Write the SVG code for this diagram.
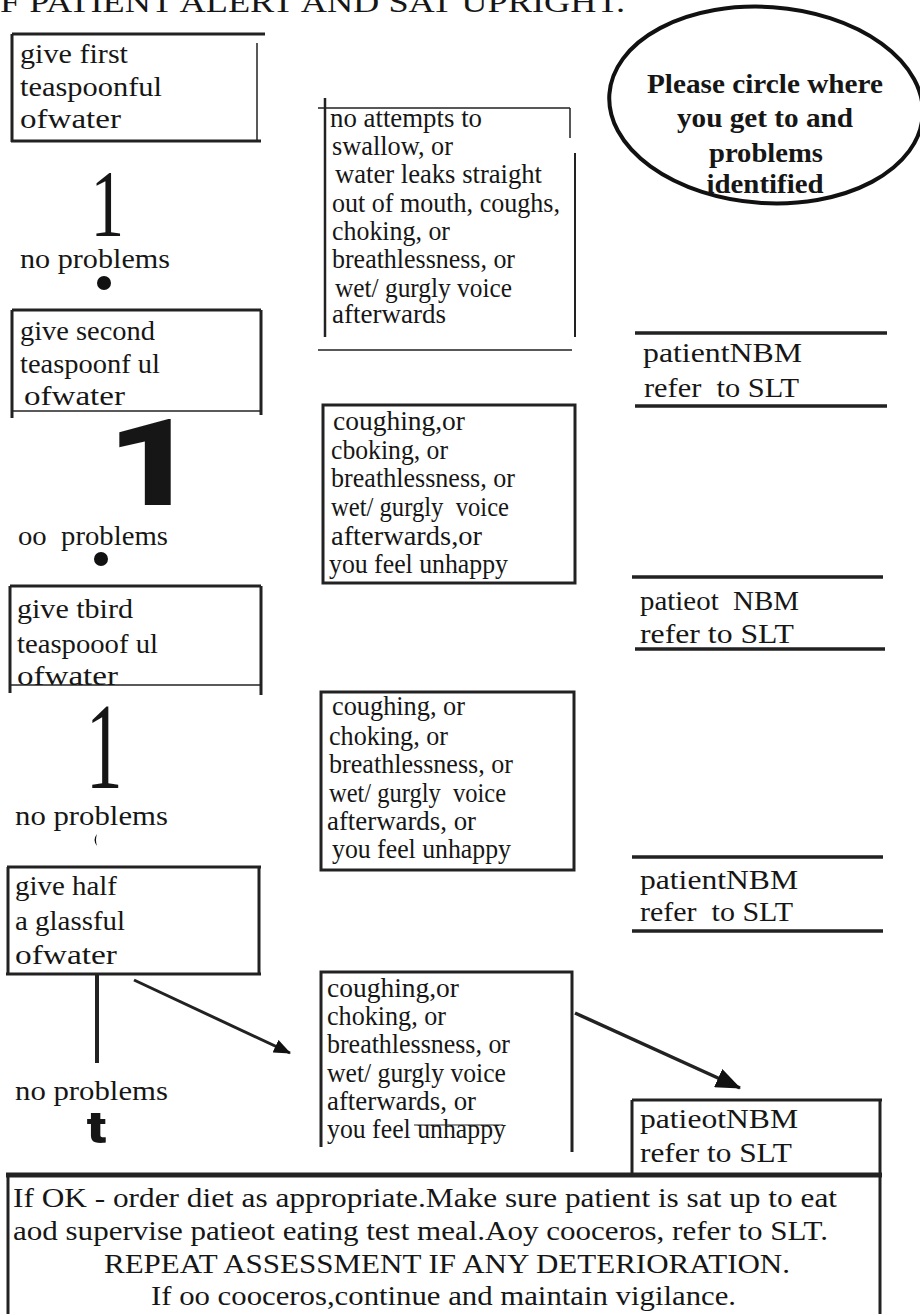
<svg xmlns="http://www.w3.org/2000/svg" width="920" height="1314" viewBox="0 0 920 1314">
<style>
text{font-family:"Liberation Serif","Times New Roman",serif;fill:#161616}
.t{font-size:27px}
.n{font-size:28px}
.b{font-size:28px}
.e{font-size:28px;font-weight:bold;text-anchor:middle}
.l{stroke:#222;fill:none}
.w1{stroke-width:1.5}
.w2{stroke-width:2.5}
.w3{stroke-width:3}
.w4{stroke-width:3.5}
.big{font-family:Roboto,"Liberation Sans",Arial,sans-serif;font-weight:900}
</style>
<defs>
<marker id="ah1" markerUnits="userSpaceOnUse" markerWidth="18" markerHeight="14" refX="16" refY="7" orient="auto"><path d="M0,0 L17,7 L0,14 z" fill="#111"/></marker>
<marker id="ah2" markerUnits="userSpaceOnUse" markerWidth="26" markerHeight="20" refX="24" refY="10" orient="auto"><path d="M0,0 L25,10 L0,20 z" fill="#111"/></marker>
</defs>
<rect width="920" height="1314" fill="#fff"/>

<g id="title">
<text x="0" y="12" style="font-size:30px" textLength="625" lengthAdjust="spacingAndGlyphs">F PATIENT  ALERT AND SAT UPRIGHT.</text>
</g>

<g id="step1">
<path class="l w3" d="M12,34 H265 M12,34 V142 M11,141 H261"/>
<path class="l w1" d="M257,43 V140"/>
<text class="t" x="20" y="63" textLength="108" lengthAdjust="spacingAndGlyphs">give first</text>
<text class="t" x="20" y="96" textLength="142" lengthAdjust="spacingAndGlyphs">teaspoonful</text>
<text class="t" x="20" y="128" textLength="101" lengthAdjust="spacingAndGlyphs">ofwater</text>
</g>

<g id="ok1">
<text transform="translate(98,236) scale(0.7,1)" x="-10.7" y="0" style="font-size:96px">1</text>
<text class="t" x="20" y="268" textLength="150" lengthAdjust="spacingAndGlyphs">no problems</text>
<circle cx="104" cy="283" r="7" fill="#111"/>
</g>

<g id="step2">
<path class="l w3" d="M12,310 H261 M12,310 V418 M261,310 V415"/>
<path class="l w1" d="M12,411 H260" stroke="#555"/>
<text class="t" x="20" y="340" textLength="135" lengthAdjust="spacingAndGlyphs">give second</text>
<text class="t" x="20" y="373" textLength="140" lengthAdjust="spacingAndGlyphs">teaspoonf ul</text>
<text class="t" x="24" y="405" textLength="101" lengthAdjust="spacingAndGlyphs">ofwater</text>
</g>

<g id="ok2">
<text class="big" transform="translate(122,505) scale(1.3,1)" x="-12" y="0" style="font-size:121px">1</text>
<text class="t" x="18" y="545" xml:space="preserve" textLength="150" lengthAdjust="spacingAndGlyphs">oo  problems</text>
<circle cx="101" cy="559" r="7" fill="#111"/>
</g>

<g id="step3">
<path class="l w3" d="M10,586 H261 M10,586 V693 M261,586 V695"/>
<path class="l w1" d="M10,685 H261"/>
<text class="t" x="17" y="618" textLength="116" lengthAdjust="spacingAndGlyphs">give tbird</text>
<text class="t" x="17" y="653" textLength="141" lengthAdjust="spacingAndGlyphs">teaspooof ul</text>
<text class="t" x="17" y="685" textLength="101" lengthAdjust="spacingAndGlyphs">ofwater</text>
</g>

<g id="ok3">
<text transform="translate(94,788) scale(0.6,1)" x="-13.7" y="0" style="font-size:123px">1</text>
<text class="t" x="15" y="825" textLength="153" lengthAdjust="spacingAndGlyphs">no problems</text>
<path d="M97,834 Q92,840 97,846 Q95,840 97,834 z" fill="#111"/>
</g>

<g id="step4">
<path class="l w3" d="M7,867 H261 M8,867 V975 M259,867 V975 M6,974 H261"/>
<text class="t" x="15" y="895" textLength="102" lengthAdjust="spacingAndGlyphs">give half</text>
<text class="t" x="15" y="930" textLength="110" lengthAdjust="spacingAndGlyphs">a glassful</text>
<text class="t" x="15" y="964" textLength="102" lengthAdjust="spacingAndGlyphs">ofwater</text>
</g>

<g id="ok4">
<text class="t" x="15" y="1100" textLength="153" lengthAdjust="spacingAndGlyphs">no problems</text>
<text class="big" transform="translate(88,1143) scale(1.3,1)" x="-1" y="0" style="font-size:44px">t</text>
</g>

<g id="circle-note">
<ellipse cx="766" cy="105" rx="157" ry="98" transform="rotate(4 766 105)" fill="none" stroke="#111" stroke-width="4"/>
<text class="e" x="765" y="93" textLength="236" lengthAdjust="spacingAndGlyphs">Please circle where</text>
<text class="e" x="765" y="127" textLength="176" lengthAdjust="spacingAndGlyphs">you get to and</text>
<text class="e" x="766" y="162" textLength="114" lengthAdjust="spacingAndGlyphs">problems</text>
<text class="e" x="765" y="193" textLength="117" lengthAdjust="spacingAndGlyphs">identified</text>
</g>

<g id="problem1">
<path class="l w1" d="M318,108 H570 M570,108 V138 M318,350 H572"/>
<path class="l w2" d="M325,98 V337"/>
<path class="l" stroke-width="2" d="M575,153 V337"/>
<text class="t" x="330" y="127" textLength="152" lengthAdjust="spacingAndGlyphs">no attempts to</text>
<text class="t" x="332" y="155" textLength="121" lengthAdjust="spacingAndGlyphs">swallow, or</text>
<text class="t" x="335" y="183" textLength="207" lengthAdjust="spacingAndGlyphs">water leaks straight</text>
<text class="t" x="332" y="212" textLength="228" lengthAdjust="spacingAndGlyphs">out of mouth, coughs,</text>
<text class="t" x="332" y="240" textLength="118" lengthAdjust="spacingAndGlyphs">choking, or</text>
<text class="t" x="332" y="268" textLength="183" lengthAdjust="spacingAndGlyphs">breathlessness, or</text>
<text class="t" x="335" y="297" textLength="177" lengthAdjust="spacingAndGlyphs">wet/ gurgly voice</text>
<text class="t" x="332" y="323" textLength="114" lengthAdjust="spacingAndGlyphs">afterwards</text>
</g>

<g id="nbm1">
<path class="l w4" d="M635,333 H887 M635,406 H887"/>
<text class="n" x="643" y="362" textLength="159" lengthAdjust="spacingAndGlyphs">patientNBM</text>
<text class="n" x="644" y="397" xml:space="preserve" textLength="155" lengthAdjust="spacingAndGlyphs">refer  to SLT</text>
</g>

<g id="problem2">
<rect class="l w3" x="323" y="405" width="252" height="178"/>
<text class="t" x="333" y="430" textLength="132" lengthAdjust="spacingAndGlyphs">coughing,or</text>
<text class="t" x="331" y="459" textLength="117" lengthAdjust="spacingAndGlyphs">cboking, or</text>
<text class="t" x="331" y="487" textLength="184" lengthAdjust="spacingAndGlyphs">breathlessness, or</text>
<text class="t" x="331" y="516" xml:space="preserve" textLength="178" lengthAdjust="spacingAndGlyphs">wet/ gurgly  voice</text>
<text class="t" x="331" y="545" textLength="151" lengthAdjust="spacingAndGlyphs">afterwards,or</text>
<text class="t" x="329" y="573" textLength="179" lengthAdjust="spacingAndGlyphs">you feel unhappy</text>
</g>

<g id="nbm2">
<path class="l w4" d="M632,577 H883 M635,649 H885"/>
<text class="n" x="640" y="610" xml:space="preserve" textLength="159" lengthAdjust="spacingAndGlyphs">patieot  NBM</text>
<text class="n" x="640" y="643" textLength="154" lengthAdjust="spacingAndGlyphs">refer to SLT</text>
</g>

<g id="problem3">
<rect class="l w3" x="321" y="692" width="253" height="178"/>
<text class="t" x="332" y="715" textLength="133" lengthAdjust="spacingAndGlyphs">coughing, or</text>
<text class="t" x="329" y="745" textLength="119" lengthAdjust="spacingAndGlyphs">choking, or</text>
<text class="t" x="329" y="773" textLength="184" lengthAdjust="spacingAndGlyphs">breathlessness, or</text>
<text class="t" x="329" y="802" xml:space="preserve" textLength="177" lengthAdjust="spacingAndGlyphs">wet/ gurgly  voice</text>
<text class="t" x="327" y="830" textLength="149" lengthAdjust="spacingAndGlyphs">afterwards, or</text>
<text class="t" x="332" y="858" textLength="179" lengthAdjust="spacingAndGlyphs">you feel unhappy</text>
</g>

<g id="nbm3">
<path class="l w4" d="M632,857 H883 M632,931 H883"/>
<text class="n" x="640" y="889" textLength="158" lengthAdjust="spacingAndGlyphs">patientNBM</text>
<text class="n" x="640" y="921" xml:space="preserve" textLength="153" lengthAdjust="spacingAndGlyphs">refer  to SLT</text>
</g>

<g id="problem4">
<path class="l w3" d="M321,1147 V972 H572 V1152"/>
<text class="t" x="327" y="997" textLength="132" lengthAdjust="spacingAndGlyphs">coughing,or</text>
<text class="t" x="327" y="1025" textLength="119" lengthAdjust="spacingAndGlyphs">choking, or</text>
<text class="t" x="327" y="1053" textLength="183" lengthAdjust="spacingAndGlyphs">breathlessness, or</text>
<text class="t" x="327" y="1082" textLength="179" lengthAdjust="spacingAndGlyphs">wet/ gurgly voice</text>
<text class="t" x="327" y="1110" textLength="149" lengthAdjust="spacingAndGlyphs">afterwards, or</text>
<text class="t" x="327" y="1138" textLength="179" lengthAdjust="spacingAndGlyphs">you feel unhappy</text>
<path class="l" stroke-width="1.2" d="M414,1125 H503"/>
</g>

<g id="nbm4">
<path class="l w3" d="M632,1100 H882 M632,1100 V1175 M880,1100 V1314"/>
<text class="n" x="640" y="1128" textLength="158" lengthAdjust="spacingAndGlyphs">patieotNBM</text>
<text class="n" x="640" y="1162" textLength="152" lengthAdjust="spacingAndGlyphs">refer to SLT</text>
</g>

<g id="final">
<path class="l" stroke-width="5" d="M6,1175 H882"/>
<path class="l w3" d="M8,1175 V1314"/>
<text class="b" x="13" y="1207" textLength="824" lengthAdjust="spacingAndGlyphs">If OK - order diet as appropriate.Make sure patient is sat up to eat</text>
<text class="b" x="13" y="1240" textLength="815" lengthAdjust="spacingAndGlyphs">aod supervise patieot eating test meal.Aoy cooceros, refer to SLT.</text>
<text class="b" x="104" y="1273" textLength="686" lengthAdjust="spacingAndGlyphs">REPEAT ASSESSMENT IF ANY DETERIORATION.</text>
<text class="b" x="151" y="1305" textLength="585" lengthAdjust="spacingAndGlyphs">If oo cooceros,continue and maintain vigilance.</text>
</g>

<g id="connectors">
<path class="l" stroke-width="4" d="M97,975 V1063"/>
<path class="l w3" d="M134,980 L290,1053" marker-end="url(#ah1)"/>
<path class="l w4" d="M575,1013 L740,1088" marker-end="url(#ah2)"/>
</g>
</svg>
